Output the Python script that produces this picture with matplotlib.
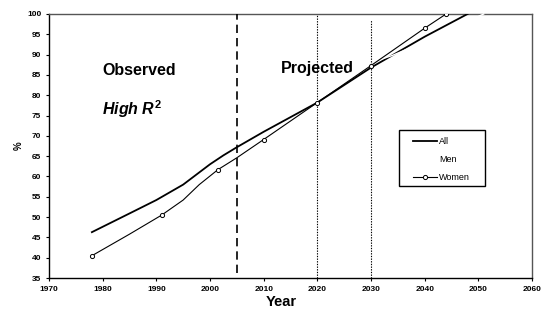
import matplotlib
matplotlib.use("Agg")
from matplotlib import pyplot as plt
from matplotlib.patches import Rectangle

plt.rcParams['font.family'] = ['Liberation Sans', 'DejaVu Sans']
plt.rcParams['mathtext.fontset'] = 'custom'
plt.rcParams['mathtext.rm'] = 'Liberation Sans:bold'
plt.rcParams['mathtext.it'] = 'Liberation Sans:italic:bold'
plt.rcParams['mathtext.bf'] = 'Liberation Sans:bold'

# data
all_years = [1978, 1985, 1990, 1995, 2000, 2002.5, 2005, 2010, 2020, 2030, 2040, 2048]
all_values = [46.3, 50.9, 54.2, 58.0, 63.0, 65.2, 67.2, 71.0, 78.2, 86.8, 94.4, 100.0]

men_years = [1978, 1990, 2000, 2010, 2020, 2030, 2034, 2040, 2051]
men_values = [52.0, 59.0, 67.5, 75.0, 81.5, 88.0, 89.8, 93.2, 100.0]

women_years = [1978, 1985, 1991, 1995, 1998, 2001.5, 2005, 2010, 2020, 2030, 2040, 2044]
women_values = [40.5, 45.8, 50.5, 54.2, 58.0, 61.7, 64.6, 69.1, 78.2, 87.3, 96.5, 100.0]
women_marked = [0, 2, 5, 7, 8, 9, 10, 11]

cutoff_year = 2005
cutoff_range = [36.2, 100]
proj_lines = [2020, 2030]
proj_ranges = [[35, 100], [35, 98.5]]

fig = plt.figure(figsize=(5.44, 3.10), dpi=100)
ax = fig.add_axes([0.090, 0.103, 0.888, 0.852])

ax.plot(all_years, all_values, color='black', linewidth=1.3, label='All', zorder=3)
ax.plot(men_years, men_values, color='white', linewidth=1.0, label='Men', zorder=4, clip_on=False)
ax.plot(women_years, women_values, color='black', linewidth=0.8, marker='o', markersize=3,
        markerfacecolor='white', markeredgewidth=0.7, markevery=women_marked, label='Women', zorder=6)

ax.plot([cutoff_year, cutoff_year], cutoff_range, color='black', linewidth=1.2,
        linestyle=(0, (5, 3)), zorder=5)
for yr, rng in zip(proj_lines, proj_ranges):
    ax.plot([yr, yr], rng, color='black', linewidth=0.8, linestyle=(0, (1.2, 1.2)), zorder=5)

ax.text(1979.9, 85.0, 'Observed', fontsize=11.5, fontweight='bold')
ax.text(1979.9, 75.2, 'High $\\mathit{R}^{2}$', fontsize=11.5, fontweight='bold', style='italic')
ax.text(2013.2, 85.5, 'Projected', fontsize=11.5, fontweight='bold')

ax.set_xlim(1970, 2060)
ax.set_ylim(35, 100)
ax.set_xticks(range(1970, 2061, 10))
ax.set_yticks(range(35, 101, 5))
ax.tick_params(labelsize=6, length=2.5, width=0.8, direction='out', pad=3)
for lab in ax.get_xticklabels() + ax.get_yticklabels():
    lab.set_fontweight('bold')

ax.set_xlabel('Year', fontsize=10.5, fontweight='bold')
ax.xaxis.set_label_coords(0.48, -0.065)
ax.set_ylabel('%', fontsize=7, fontweight='bold')
ax.yaxis.set_label_coords(-0.052, 0.5)

for side in ['left', 'bottom']:
    ax.spines[side].set_color('black')
    ax.spines[side].set_linewidth(1.0)
for side in ['top', 'right']:
    ax.spines[side].set_color('#555555')
    ax.spines[side].set_linewidth(1.0)

# legend box drawn separately so the padding matches the original
ax.add_patch(Rectangle((0.7246, 0.3485), 0.1781, 0.2121, transform=ax.transAxes,
                       facecolor='white', edgecolor='black', linewidth=1.0, zorder=7))
leg = ax.legend(loc='upper left', bbox_to_anchor=(0.7536, 0.535), fontsize=6.5, frameon=False,
                handlelength=2.7, handletextpad=0.2, labelspacing=1.0, borderpad=0,
                borderaxespad=0)
leg.set_zorder(8)

fig.savefig('out.png', dpi=100)
